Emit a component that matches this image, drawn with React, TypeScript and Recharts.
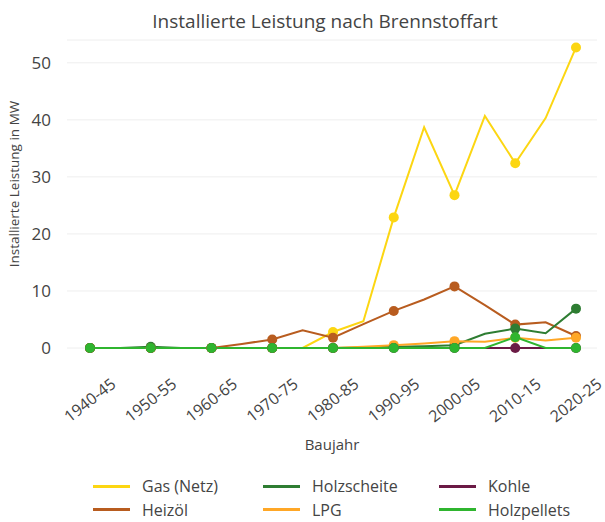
import { LineChart, Line, XAxis, YAxis, CartesianGrid, Legend } from "recharts";

const baujahr = [
  "1940-45", "1945-50", "1950-55", "1955-60", "1960-65", "1965-70", "1970-75", "1975-80",
  "1980-85", "1985-90", "1990-95", "1995-00", "2000-05", "2005-10", "2010-15", "2015-20", "2020-25",
];

const gasNetz = [0, 0, 0, 0, 0, 0, 0, 0, 2.8, 4.7, 22.9, 38.7, 26.8, 40.7, 32.4, 40.3, 52.7];
const heizoel = [0, 0, 0, 0, 0, 0.7, 1.5, 3.1, 1.8, 4.2, 6.5, 8.5, 10.8, 7.5, 4.1, 4.5, 2.1];
const holzscheite = [0, 0, 0.2, 0, 0, 0, 0, 0, 0, 0.1, 0.2, 0.3, 0.5, 2.5, 3.4, 2.6, 6.9];
const lpg = [0, 0, 0, 0, 0, 0, 0, 0, 0, 0.2, 0.5, 0.8, 1.2, 1.1, 1.8, 1.3, 1.8];
const kohle = [0, 0, 0, 0, 0, 0, 0, 0, 0, 0, 0, 0, 0, 0, 0, 0, 0];
const holzpellets = [0, 0, 0, 0, 0, 0, 0, 0, 0, 0, 0, 0, 0, 0, 1.9, 0, 0];

const yTicks = [0, 10, 20, 30, 40, 50];

const series = [
  { key: "gas", name: "Gas (Netz)", color: "#fcd612", values: gasNetz },
  { key: "heizoel", name: "Heizöl", color: "#b85c1f", values: heizoel },
  { key: "holzscheite", name: "Holzscheite", color: "#2e7d32", values: holzscheite },
  { key: "lpg", name: "LPG", color: "#ffa726", values: lpg },
  { key: "kohle", name: "Kohle", color: "#6b1a45", values: kohle },
  { key: "holzpellets", name: "Holzpellets", color: "#2fb52f", values: holzpellets },
];

// legend in the reference is filled column by column
const legendOrder = ["gas", "holzscheite", "kohle", "heizoel", "lpg", "holzpellets"];

const data = baujahr.map((b, i) => {
  const row: any = { baujahr: b };
  series.forEach((s) => (row[s.key] = s.values[i]));
  return row;
});

const FONT = "'Open Sans', sans-serif";
const TEXT = "#444";

function EvenDot(props: any) {
  const { cx, cy, index, stroke } = props;
  if (index % 2 !== 0 || cy == null) return null;
  return <circle cx={cx} cy={cy} r={5} fill={stroke} stroke="none" />;
}

function XTick(props: any) {
  const { x, y, payload, index } = props;
  if (index % 2 !== 0) return null;
  return (
    <text
      transform={`translate(${x + 27},${y + 30}) rotate(-38)`}
      textAnchor="end"
      fontSize={16}
      fill={TEXT}
      fontFamily={FONT}
    >
      {payload.value}
    </text>
  );
}

function YTick(props: any) {
  const { x, y, payload } = props;
  return (
    <text x={x - 8} y={y} dy={6} textAnchor="end" fontSize={17} fill={TEXT} fontFamily={FONT}>
      {payload.value}
    </text>
  );
}

function YLabel() {
  return (
    <text
      transform="translate(19,184) rotate(-90)"
      textAnchor="middle"
      fontSize={13.5}
      fill={TEXT}
      fontFamily={FONT}
    >
      Installierte Leistung in MW
    </text>
  );
}

function LegendBox() {
  return (
    <div
      style={{
        display: "grid",
        gridTemplateColumns: "170px 176px 140px",
        paddingTop: 13,
        height: 47,
        marginLeft: 93,
        fontFamily: FONT,
        fontSize: 16,
        color: TEXT,
        textAlign: "left",
      }}
    >
      {legendOrder.map((k) => {
        const s = series.find((x) => x.key === k)!;
        return (
          <div key={s.key} style={{ display: "flex", alignItems: "center", height: 22 }}>
            <span style={{ width: 37, height: 3, background: s.color, marginRight: 12 }} />
            {s.name}
          </div>
        );
      })}
    </div>
  );
}

export default function App() {
  return (
    <div style={{ position: "absolute", left: 0, top: 0, width: 605, height: 522, background: "#fff" }}>
      <div
        style={{
          position: "absolute",
          top: 8,
          left: 0,
          width: 650,
          textAlign: "center",
          fontFamily: FONT,
          fontSize: 19,
          color: TEXT,
        }}
      >
        Installierte Leistung nach Brennstoffart
      </div>
      <LineChart
        width={605}
        height={522}
        data={data}
        margin={{ top: 40, right: 8, bottom: 0, left: 0 }}
      >
        <CartesianGrid vertical={false} stroke="#eeeeee" />
        <XAxis
          dataKey="baujahr"
          interval={0}
          tick={<XTick />}
          tickLine={false}
          axisLine={false}
          padding={{ left: 23, right: 21 }}
          height={114}
          label={{ value: "Baujahr", position: "insideBottom", offset: 12, fontSize: 15, fill: TEXT, fontFamily: FONT }}
        />
        <YAxis
          domain={[0, 54]}
          ticks={yTicks}
          width={67}
          tickLine={false}
          axisLine={false}
          tick={<YTick />}
          label={<YLabel />}
        />
        {series.map((s) => (
          <Line
            key={s.key}
            type="linear"
            dataKey={s.key}
            name={s.name}
            stroke={s.color}
            strokeWidth={2}
            dot={<EvenDot />}
            activeDot={false}
            isAnimationActive={false}
          />
        ))}
        <Legend verticalAlign="bottom" height={60} content={() => <LegendBox />} />
      </LineChart>
    </div>
  );
}
